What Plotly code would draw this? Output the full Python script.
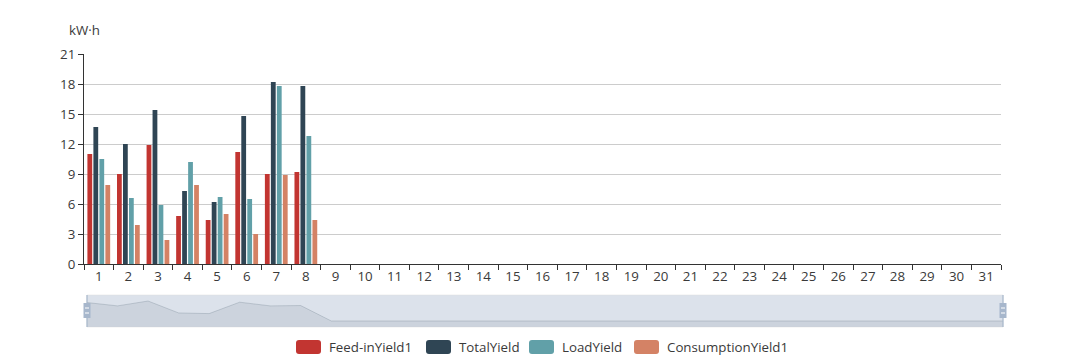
import plotly.graph_objects as go

days = [str(d) for d in range(1, 32)]
feed_in = [11.0, 9.0, 11.9, 4.8, 4.4, 11.2, 9.0, 9.2] + [0] * 23
total = [13.7, 12.0, 15.4, 7.3, 6.2, 14.8, 18.2, 17.8] + [0] * 23
load = [10.5, 6.6, 5.9, 10.2, 6.7, 6.5, 17.8, 12.8] + [0] * 23
consumption = [7.9, 3.9, 2.4, 7.9, 5.0, 3.0, 8.9, 4.4] + [0] * 23

series_names = ["Feed-inYield1", "TotalYield", "LoadYield", "ConsumptionYield1"]
series_values = [feed_in, total, load, consumption]
colors = ["#c23531", "#2f4554", "#61a0a8", "#d48265"]
unit_label = "kW·h"

FONT = "Open Sans, Noto Sans, sans-serif"
FS = 13.3
TXT = "#3a3a3a"
W, H = 1080, 361
ML, MR, MT, MB = 84, 77, 54, 30
PW = W - ML - MR
PH = H - MT - MB


def px(x):
    return (x - ML) / PW


def py(y):
    return (H - MB - y) / PH


fig = go.Figure()
for name, vals, c in zip(series_names, series_values, colors):
    fig.add_trace(go.Bar(x=days, y=vals, name=name, marker=dict(color=c, line=dict(width=0)),
                         xaxis="x", yaxis="y", showlegend=False))

# data shadow in the zoom slider (first series)
fig.add_trace(go.Scatter(x=list(range(1, 32)), y=feed_in, xaxis="x2", yaxis="y2", mode="lines",
                         line=dict(color="rgba(47,69,84,0.3)", width=0.6),
                         fill="tozeroy", fillcolor="rgba(47,69,84,0.09)", showlegend=False,
                         hoverinfo="skip"))

shapes = []
# slider filler
shapes.append(dict(type="rect", xref="paper", yref="paper", x0=px(87), x1=px(1003), y0=py(327), y1=py(295),
                   fillcolor="rgba(167,183,204,0.4)", line=dict(color="#dddddd", width=0.5), layer="below"))
# shadow below zero to slider bottom
shapes.append(dict(type="rect", xref="x2", yref="y2", x0=1, x1=31, y0=-3.6, y1=0,
                   fillcolor="rgba(47,69,84,0.09)", line=dict(width=0), layer="below"))
# handles
for hx in (87, 1003):
    shapes.append(dict(type="line", xref="paper", yref="paper", x0=px(hx), x1=px(hx), y0=py(295), y1=py(327),
                       line=dict(color="#a7b7cc", width=1.2)))
    shapes.append(dict(type="rect", xref="paper", yref="paper", x0=px(hx - 3.5), x1=px(hx + 3.5),
                       y0=py(318), y1=py(303), fillcolor="#a7b7cc", line=dict(width=0)))
    for ly in (308, 313):
        shapes.append(dict(type="line", xref="paper", yref="paper", x0=px(hx - 2), x1=px(hx + 2),
                           y0=py(ly), y1=py(ly), line=dict(color="white", width=1)))

# custom legend
legend_rect_x = [296, 426, 529, 634]
annotations = []
for name, c, lx in zip(series_names, colors, legend_rect_x):
    x0, x1, y0, y1, r = lx, lx + 25, 340, 354, 3
    path = (f"M {px(x0 + r)} {py(y0)} L {px(x1 - r)} {py(y0)} Q {px(x1)} {py(y0)} {px(x1)} {py(y0 + r)} "
            f"L {px(x1)} {py(y1 - r)} Q {px(x1)} {py(y1)} {px(x1 - r)} {py(y1)} "
            f"L {px(x0 + r)} {py(y1)} Q {px(x0)} {py(y1)} {px(x0)} {py(y1 - r)} "
            f"L {px(x0)} {py(y0 + r)} Q {px(x0)} {py(y0)} {px(x0 + r)} {py(y0)} Z")
    shapes.append(dict(type="path", xref="paper", yref="paper", path=path, fillcolor=c, line=dict(width=0)))
    annotations.append(dict(text=name, xref="paper", yref="paper", x=px(lx + 31), y=py(347),
                            xanchor="left", yanchor="middle", showarrow=False,
                            font=dict(family=FONT, size=FS, color=TXT)))

annotations.append(dict(text=unit_label, xref="paper", yref="paper", x=px(84), y=py(30),
                        xanchor="center", yanchor="middle", showarrow=False,
                        font=dict(family=FONT, size=FS, color=TXT)))

fig.update_layout(
    width=W, height=H,
    margin=dict(l=ML, r=MR, t=MT, b=MB, pad=0),
    paper_bgcolor="white", plot_bgcolor="white",
    font=dict(family=FONT, size=FS, color=TXT),
    barmode="group", bargap=0.19, bargroupgap=0.2,
    showlegend=False,
    xaxis=dict(domain=[0, (1001 - ML) / PW], type="category", tickson="boundaries",
               showline=True, linecolor="#333333", linewidth=1, ticks="outside", ticklen=5,
               tickcolor="#333333", showgrid=False, anchor="y",
               tickfont=dict(family=FONT, size=FS, color=TXT)),
    yaxis=dict(domain=[py(264), 1], range=[0, 21], dtick=3, tick0=0, showline=True, linecolor="#333333",
               linewidth=1, ticks="outside", ticklen=5, tickcolor="#333333", showgrid=True,
               gridcolor="#cccccc", gridwidth=1, zeroline=False, anchor="x",
               tickfont=dict(family=FONT, size=FS, color=TXT)),
    xaxis2=dict(domain=[px(87), 1], range=[1, 31], visible=False, anchor="y2"),
    yaxis2=dict(domain=[py(327), py(295)], range=[-3.6, 15.5], visible=False, anchor="x2"),
    shapes=shapes,
    annotations=annotations,
)

fig.write_html("out.html", config={"displayModeBar": False},
               post_script="document.body.style.margin='0';document.body.style.padding='0';")
